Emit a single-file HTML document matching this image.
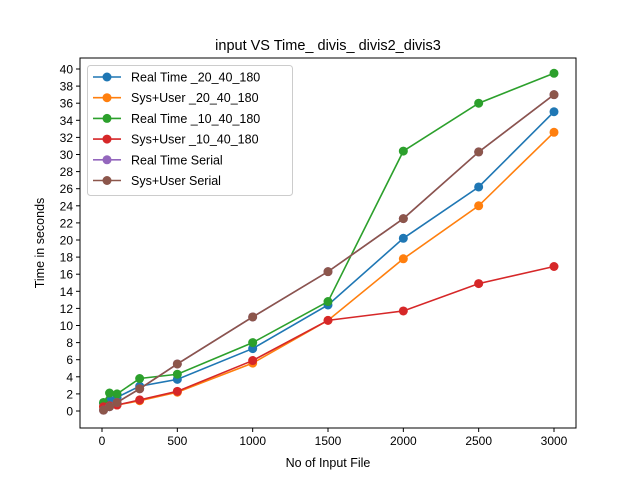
<!DOCTYPE html><html><head><meta charset="utf-8"><style>body{margin:0;background:#fff}svg{font-family:"Liberation Sans","DejaVu Sans",sans-serif}</style></head><body>
<svg id="c" width="640" height="480"></svg>
<script>
const xVals=[10,50,100,250,500,1000,1500,2000,2500,3000];
const rt2040=[0.9,1.3,1.6,2.9,3.7,7.3,12.4,20.2,26.2,35.0];
const su2040=[0.5,0.6,0.7,1.2,2.2,5.6,10.6,17.8,24.0,32.6];
const rt1040=[1.0,2.1,2.0,3.8,4.3,8.0,12.8,30.4,36.0,39.5];
const su1040=[0.5,0.6,0.7,1.3,2.3,5.9,10.6,11.7,14.9,16.9];
const rtSerial=[0.1,0.5,1.0,2.6,5.5,11.0,16.3,22.5,30.3,37.0];
const suSerial=[0.1,0.5,1.0,2.6,5.5,11.0,16.3,22.5,30.3,37.0];
const xTicks=[0,500,1000,1500,2000,2500,3000];
const yTicks=[0,2,4,6,8,10,12,14,16,18,20,22,24,26,28,30,32,34,36,38,40];
const series=[["Real Time _20_40_180",rt2040,"#1f77b4"],["Sys+User _20_40_180",su2040,"#ff7f0e"],["Real Time _10_40_180",rt1040,"#2ca02c"],["Sys+User _10_40_180",su1040,"#d62728"],["Real Time Serial",rtSerial,"#9467bd"],["Sys+User Serial",suSerial,"#8c564b"]];
const L=80,R=576,T=58,B=428;
const X=v=>102+v*(554-102)/3000, Y=v=>411-v*(411-69)/40;
const s=document.getElementById('c'),NS="http://www.w3.org/2000/svg";
function el(t,a,p){const e=document.createElementNS(NS,t);for(const k in a)e.setAttribute(k,a[k]);(p||s).appendChild(e);return e;}
let t=el('text',{x:328,y:50,'text-anchor':'middle','font-size':14.5});t.textContent="input VS Time_ divis_ divis2_divis3";


xTicks.forEach(v=>{el('line',{x1:X(v),x2:X(v),y1:B,y2:B+4,stroke:'#000'});const q=el('text',{x:X(v),y:B+17,'text-anchor':'middle','font-size':12});q.textContent=v;

});
yTicks.forEach(v=>{el('line',{x1:L-4,x2:L,y1:Y(v),y2:Y(v),stroke:'#000'});const q=el('text',{x:L-7,y:Y(v)+4.5,'text-anchor':'end','font-size':12});q.textContent=v;

});
t=el('text',{x:328,y:467,'text-anchor':'middle','font-size':12.5});t.textContent="No of Input File";


t=el('text',{x:44,y:243,'text-anchor':'middle','font-size':12.5,transform:'rotate(-90 44 243)'});t.textContent="Time in seconds";


series.forEach(([n,d,c])=>{const g=el('g',{});


el('polyline',{points:d.map((v,i)=>X(xVals[i])+','+Y(v)).join(' '),fill:'none',stroke:c,'stroke-width':1.6},g);
d.forEach((v,i)=>el('circle',{cx:X(xVals[i]),cy:Y(v),r:4.5,fill:c},g));});
el('rect',{x:L,y:T,width:R-L,height:B-T,fill:'none',stroke:'#000','stroke-width':1});
const lg=el('g',{});


el('rect',{x:87.5,y:65.5,width:205,height:130,rx:3,fill:'#fff','fill-opacity':0.8,stroke:'#ccc'},lg);
series.forEach(([n,d,c],i)=>{const y=77+i*20.7;el('line',{x1:93,x2:121,y1:y,y2:y,stroke:c,'stroke-width':1.6},lg);el('circle',{cx:107,cy:y,r:4.5,fill:c},lg);const q=el('text',{x:131,y:y+4.5,'font-size':12.5},lg);q.textContent=n;

});
</script></body></html>
